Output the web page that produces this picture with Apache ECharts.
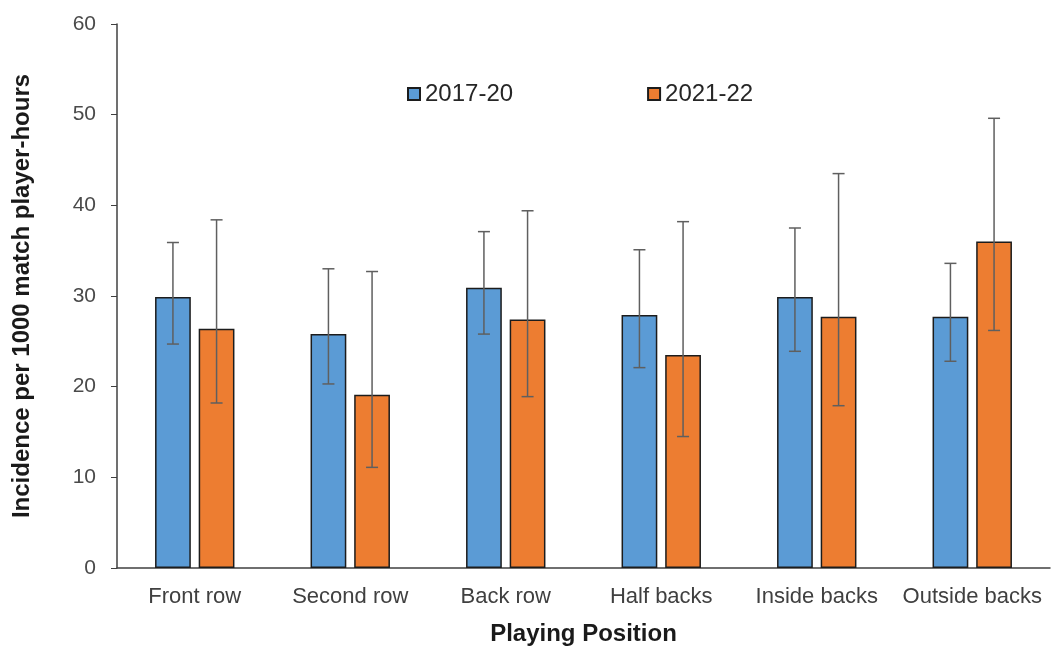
<!DOCTYPE html>
<html>
<head>
<meta charset="utf-8">
<script src="https://cdn.jsdelivr.net/npm/echarts@6/dist/echarts.min.js"></script>
<style>
  html, body { margin: 0; padding: 0; background: #fff; }
  #chart { width: 1056px; height: 646px; }
</style>
</head>
<body>
<div id="chart"></div>
<script>
// Injury incidence by playing position, two seasons, with 95% CI whiskers
const positions = ['Front row', 'Second row', 'Back row', 'Half backs', 'Inside backs', 'Outside backs'];
const seasons = ['2017-20', '2021-22'];

const incidence2017 = [29.9, 25.8, 30.9, 27.9, 29.9, 27.7];
const lower2017     = [24.7, 20.3, 25.8, 22.1, 23.9, 22.8];
const upper2017     = [35.9, 33.0, 37.1, 35.1, 37.5, 33.6];

const incidence2021 = [26.4, 19.1, 27.4, 23.5, 27.7, 36.0];
const lower2021     = [18.2, 11.1, 18.9, 14.5, 17.9, 26.2];
const upper2021     = [38.4, 32.7, 39.4, 38.2, 43.5, 49.6];

const yTicks = { min: 0, max: 60, interval: 10 };

const BAR_W = 0.23;   // share of the category band per bar
const BAR_GAP = 0.22; // gap between the pair, as share of bar width

function ciData(lo, hi) {
  return positions.map((_, i) => [i, lo[i], hi[i]]);
}

function whiskers(side) {
  return function (params, api) {
    const idx = api.value(0);
    const lo = api.value(1);
    const hi = api.value(2);
    const band = api.size([1, 0])[0];
    const off = side * band * BAR_W * (1 + BAR_GAP) / 2;
    const pLo = api.coord([idx, lo]);
    const pHi = api.coord([idx, hi]);
    const x = pLo[0] + off;
    const cap = 6;
    const style = { stroke: '#5f5f5f', lineWidth: 1.5 };
    return {
      type: 'group',
      children: [
        { type: 'line', shape: { x1: x, y1: pLo[1], x2: x, y2: pHi[1] }, style },
        { type: 'line', shape: { x1: x - cap, y1: pHi[1], x2: x + cap, y2: pHi[1] }, style },
        { type: 'line', shape: { x1: x - cap, y1: pLo[1], x2: x + cap, y2: pLo[1] }, style }
      ]
    };
  };
}

const chart = echarts.init(document.getElementById('chart'), null, { renderer: 'canvas' });

chart.setOption({
  animation: false,
  backgroundColor: '#ffffff',
  textStyle: { fontFamily: 'Liberation Sans, Arial, sans-serif' },
  grid: { left: 117, right: 6, top: 24, bottom: 78, outerBoundsMode: 'none', containLabel: false },
  legend: {
    data: seasons,
    left: 402,
    top: 77,
    icon: 'rect',
    itemWidth: 12,
    itemHeight: 12,
    itemGap: 134,
    textStyle: { fontSize: 24, color: '#262626', fontFamily: 'Liberation Sans, Arial, sans-serif' }
  },
  xAxis: {
    type: 'category',
    data: positions,
    name: 'Playing Position',
    nameLocation: 'middle',
    nameGap: 54,
    nameTextStyle: { fontSize: 24, fontWeight: 'bold', color: '#1a1a1a' },
    axisLine: { lineStyle: { color: '#404040', width: 1.5 } },
    axisTick: { show: false },
    axisLabel: { fontSize: 22, color: '#404040', margin: 18, interval: 0 }
  },
  yAxis: {
    type: 'value',
    min: yTicks.min,
    max: yTicks.max,
    interval: yTicks.interval,
    name: 'Incidence per 1000 match player-hours',
    nameLocation: 'middle',
    nameGap: 83,
    nameTextStyle: { fontSize: 24, fontWeight: 'bold', color: '#1a1a1a' },
    axisLine: { show: true, lineStyle: { color: '#404040', width: 1.5 } },
    axisTick: { show: true, inside: false, length: 6, lineStyle: { color: '#404040' } },
    axisLabel: { fontSize: 21, color: '#4a4a4a', margin: 21 },
    splitLine: { show: false }
  },
  series: [
    {
      name: seasons[0],
      type: 'bar',
      data: incidence2017,
      barWidth: (BAR_W * 100) + '%',
      barGap: (BAR_GAP * 100) + '%',
      itemStyle: { color: '#5b9bd5', borderColor: '#1c1c1c', borderWidth: 1.5 }
    },
    {
      name: seasons[1],
      type: 'bar',
      data: incidence2021,
      barWidth: (BAR_W * 100) + '%',
      itemStyle: { color: '#ed7d31', borderColor: '#1c1c1c', borderWidth: 1.5 }
    },
    {
      name: 'ci-2017',
      type: 'custom',
      renderItem: whiskers(-1),
      data: ciData(lower2017, upper2017),
      encode: { x: 0, y: [1, 2] },
      z: 5
    },
    {
      name: 'ci-2021',
      type: 'custom',
      renderItem: whiskers(1),
      data: ciData(lower2021, upper2021),
      encode: { x: 0, y: [1, 2] },
      z: 5
    }
  ]
});
</script>
</body>
</html>
